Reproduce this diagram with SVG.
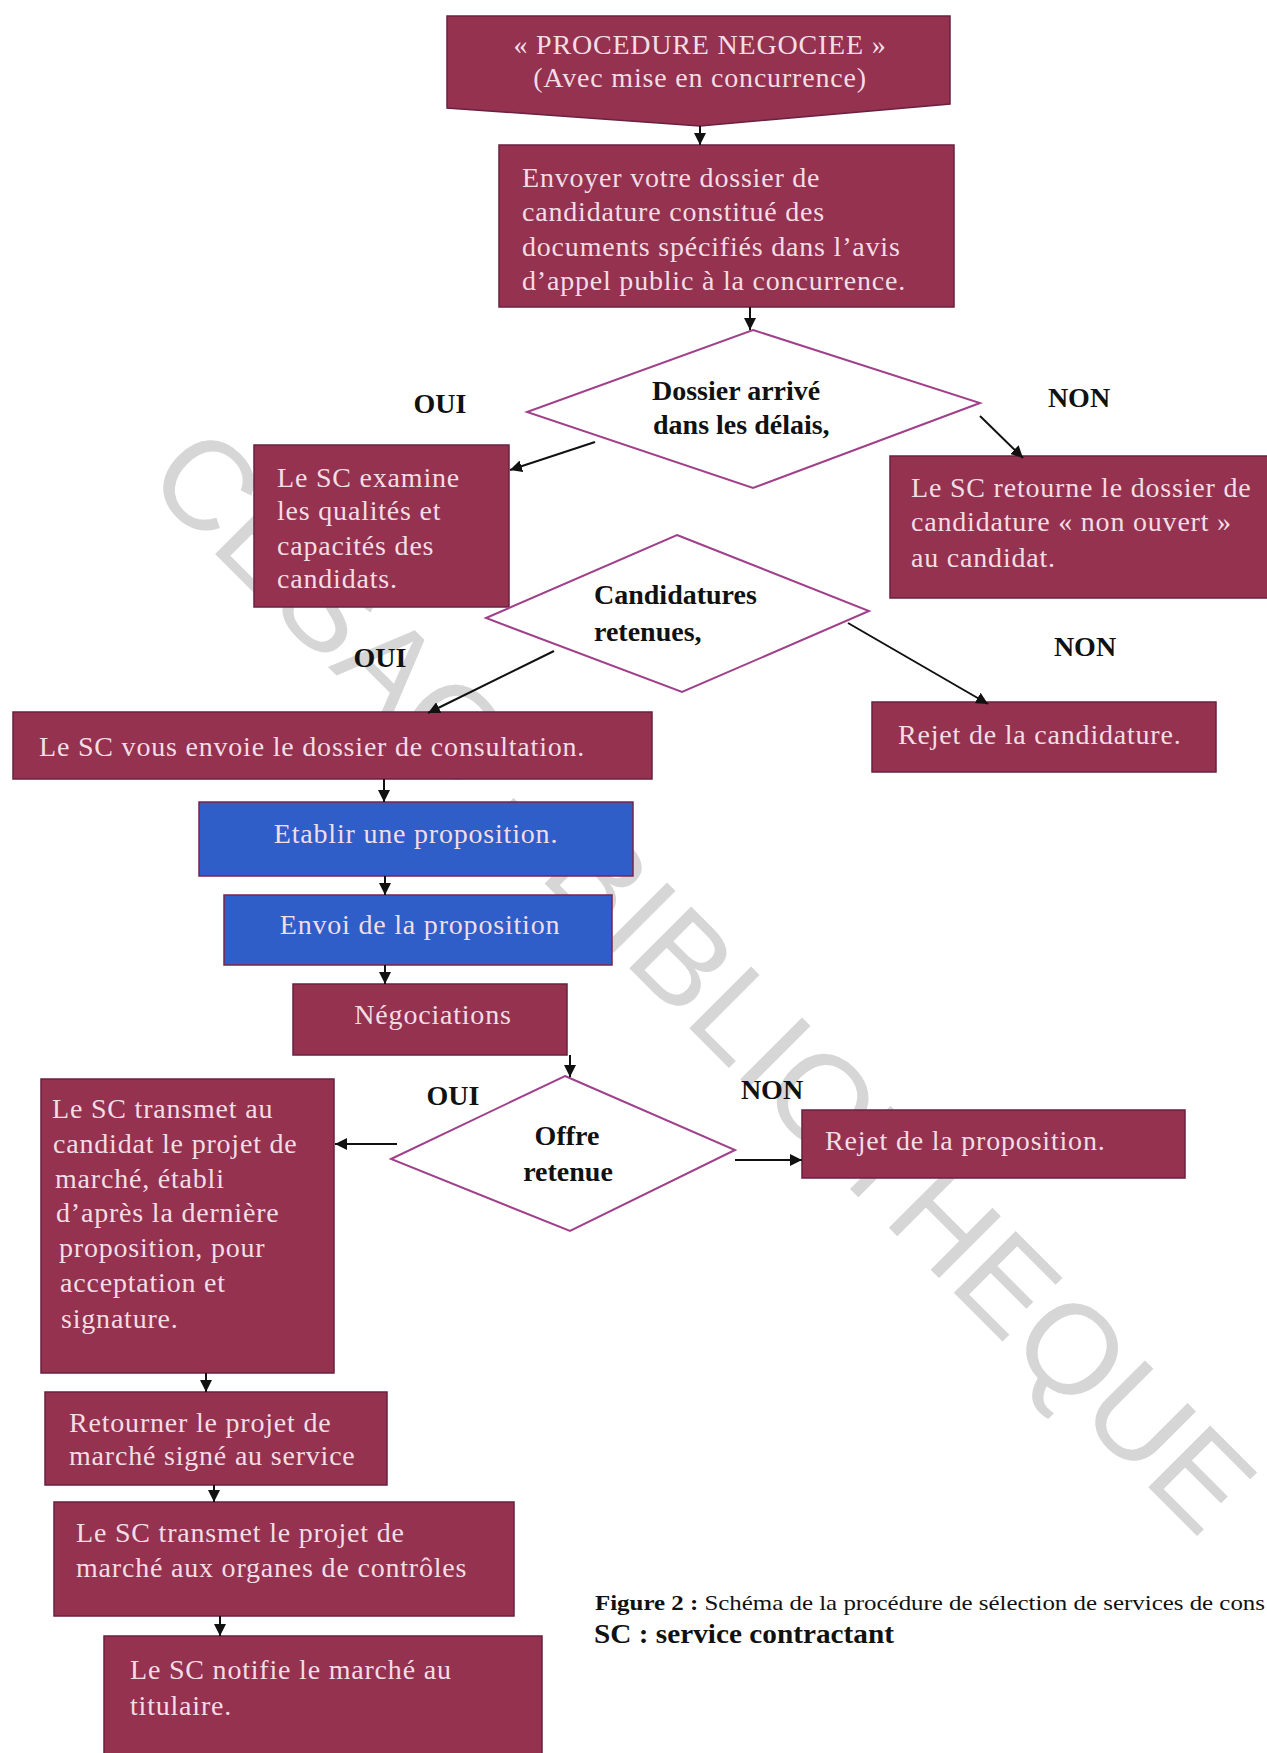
<svg xmlns="http://www.w3.org/2000/svg" width="1267" height="1753" viewBox="0 0 1267 1753">
<style>
.box{fill:#94324f;stroke:#6b2040;stroke-width:1.5}
.blue{fill:#2f5ec8;stroke:#7b2449;stroke-width:1.5}
.dia{fill:#ffffff;stroke:#a0408a;stroke-width:2}
.bt{font-family:"Liberation Serif","Times New Roman",serif;font-size:28px;fill:#f2dde5;letter-spacing:0.8px}
.dt{font-family:"Liberation Serif","Times New Roman",serif;font-size:28px;font-weight:bold;fill:#111}
.lb{font-family:"Liberation Serif","Times New Roman",serif;font-size:28px;font-weight:bold;fill:#111;text-anchor:middle}
.con line{stroke:#111;stroke-width:2;marker-end:url(#ah)}
.wm{font-family:"Liberation Sans",Arial,sans-serif;font-size:127px;fill:#d6d6d6}
.cap{font-family:"Liberation Serif","Times New Roman",serif;fill:#111}
</style>
<defs>
<marker id="ah" viewBox="0 0 10 10" refX="10" refY="5" markerWidth="6" markerHeight="6" orient="auto" markerUnits="strokeWidth">
<path d="M0,0 L10,5 L0,10 z" fill="#111"/>
</marker>
</defs>
<rect width="1267" height="1753" fill="#ffffff"/>
<text class="wm" transform="translate(143,482) rotate(45)">CESAG - BIBLIOTHEQUE</text>

<g id="n-start">
<polygon class="box" points="447,16 950,16 950,104 700,126 447,108"/>
<text class="bt" x="700" y="54" text-anchor="middle">« PROCEDURE NEGOCIEE »</text>
<text class="bt" x="700" y="87" text-anchor="middle">(Avec mise en concurrence)</text>
</g>
<g id="n-envoyer">
<rect class="box" x="499" y="145" width="455" height="162"/>
<text class="bt" x="522" y="187">Envoyer votre dossier de</text>
<text class="bt" x="522" y="221">candidature constitué des</text>
<text class="bt" x="522" y="256">documents spécifiés dans l’avis</text>
<text class="bt" x="522" y="290">d’appel public à la concurrence.</text>
</g>
<g id="d-delais">
<polygon class="dia" points="753,330 980,403 753,488 527,412"/>
<text class="dt" x="652" y="400">Dossier arrivé</text>
<text class="dt" x="653" y="434">dans les délais,</text>
</g>
<g id="n-examine">
<rect class="box" x="254" y="445" width="255" height="162"/>
<text class="bt" x="277" y="487">Le SC examine</text>
<text class="bt" x="277" y="520">les qualités et</text>
<text class="bt" x="277" y="555">capacités des</text>
<text class="bt" x="277" y="588">candidats.</text>
</g>
<g id="n-retourne">
<rect class="box" x="890" y="456" width="380" height="142"/>
<text class="bt" x="911" y="497">Le SC retourne le dossier de</text>
<text class="bt" x="911" y="531">candidature « non ouvert »</text>
<text class="bt" x="911" y="567">au candidat.</text>
</g>
<g id="d-candidatures">
<polygon class="dia" points="677,535 869,611 682,692 486,618"/>
<text class="dt" x="594" y="604">Candidatures</text>
<text class="dt" x="594" y="641">retenues,</text>
</g>
<g id="n-consultation">
<rect class="box" x="13" y="712" width="639" height="67"/>
<text class="bt" x="39" y="756">Le SC vous envoie le dossier de consultation.</text>
</g>
<g id="n-rejet-cand">
<rect class="box" x="872" y="702" width="344" height="70"/>
<text class="bt" x="898" y="744">Rejet de la candidature.</text>
</g>
<g id="n-etablir">
<rect class="blue" x="199" y="802" width="434" height="74"/>
<text class="bt" x="416" y="843" text-anchor="middle">Etablir une proposition.</text>
</g>
<g id="n-envoi">
<rect class="blue" x="224" y="895" width="388" height="70"/>
<text class="bt" x="420" y="934" text-anchor="middle">Envoi de la proposition</text>
</g>
<g id="n-nego">
<rect class="box" x="293" y="984" width="274" height="71"/>
<text class="bt" x="433" y="1024" text-anchor="middle">Négociations</text>
</g>
<g id="d-offre">
<polygon class="dia" points="565,1076 735,1150 570,1231 391,1159"/>
<text class="dt" x="567" y="1145" text-anchor="middle">Offre</text>
<text class="dt" x="568" y="1181" text-anchor="middle">retenue</text>
</g>
<g id="n-rejet-prop">
<rect class="box" x="802" y="1110" width="383" height="68"/>
<text class="bt" x="825" y="1150">Rejet de la proposition.</text>
</g>
<g id="n-transmet">
<rect class="box" x="41" y="1079" width="293" height="294"/>
<text class="bt" x="52" y="1118">Le SC transmet au</text>
<text class="bt" x="53" y="1153">candidat le projet de</text>
<text class="bt" x="55" y="1188">marché, établi</text>
<text class="bt" x="56" y="1222">d’après la dernière</text>
<text class="bt" x="59" y="1257">proposition, pour</text>
<text class="bt" x="60" y="1292">acceptation et</text>
<text class="bt" x="61" y="1328">signature.</text>
</g>
<g id="n-retourner">
<rect class="box" x="45" y="1392" width="342" height="93"/>
<text class="bt" x="69" y="1432">Retourner le projet de</text>
<text class="bt" x="69" y="1465">marché signé au service</text>
</g>
<g id="n-controles">
<rect class="box" x="54" y="1502" width="460" height="114"/>
<text class="bt" x="76" y="1542">Le SC transmet le projet de</text>
<text class="bt" x="76" y="1577">marché aux organes de contrôles</text>
</g>
<g id="n-notifie">
<rect class="box" x="104" y="1636" width="438" height="124"/>
<text class="bt" x="130" y="1679">Le SC notifie le marché au</text>
<text class="bt" x="130" y="1715">titulaire.</text>
</g>

<g id="labels">
<text class="lb" x="440" y="413">OUI</text>
<text class="lb" x="1079" y="407">NON</text>
<text class="lb" x="380" y="667">OUI</text>
<text class="lb" x="1085" y="656">NON</text>
<text class="lb" x="453" y="1105">OUI</text>
<text class="lb" x="772" y="1099">NON</text>
</g>

<g id="connectors" class="con">
<line x1="700" y1="126" x2="700" y2="145"/>
<line x1="750" y1="307" x2="750" y2="330"/>
<line x1="595" y1="442" x2="510" y2="470"/>
<line x1="980" y1="416" x2="1023" y2="458"/>
<line x1="554" y1="651" x2="428" y2="713"/>
<line x1="848" y1="623" x2="988" y2="704"/>
<line x1="384" y1="779" x2="384" y2="802"/>
<line x1="385" y1="876" x2="385" y2="895"/>
<line x1="385" y1="965" x2="385" y2="984"/>
<line x1="570" y1="1055" x2="570" y2="1077"/>
<line x1="397" y1="1144" x2="335" y2="1144"/>
<line x1="735" y1="1160" x2="802" y2="1160"/>
<line x1="206" y1="1373" x2="206" y2="1392"/>
<line x1="214" y1="1485" x2="214" y2="1502"/>
<line x1="220" y1="1616" x2="220" y2="1636"/>
</g>

<g id="caption">
<text class="cap" x="595" y="1610" font-size="22" textLength="670" lengthAdjust="spacingAndGlyphs"><tspan font-weight="bold">Figure 2 :</tspan> Schéma de la procédure de sélection de services de cons</text>
<text class="cap" x="594" y="1643" font-size="27" font-weight="bold" textLength="300" lengthAdjust="spacingAndGlyphs">SC : service contractant</text>
</g>
</svg>
